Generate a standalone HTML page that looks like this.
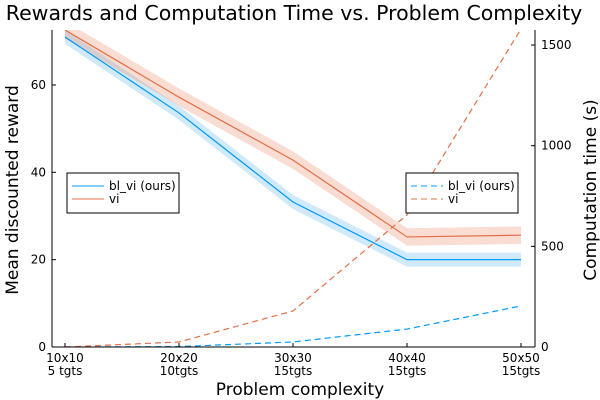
<!DOCTYPE html>
<html><head><meta charset="utf-8"><style>
body{margin:0;background:#fff}
svg{display:block;font-family:"DejaVu Sans","Liberation Sans",sans-serif}
</style></head><body>
<svg id="c" width="600" height="400" xmlns="http://www.w3.org/2000/svg">
<text x="294" y="20" text-anchor="middle" font-size="20.5" fill="#000">Rewards and Computation Time vs. Problem Complexity</text>
<text x="300" y="395" text-anchor="middle" font-size="17">Problem complexity</text>
<text transform="translate(18,190) rotate(-90)" text-anchor="middle" font-size="17">Mean discounted reward</text>
<text transform="translate(596,190) rotate(-90)" text-anchor="middle" font-size="17">Computation time (s)</text>
<g id="plot"></g>
</svg>
<script>
const categories=["10x10\n5 tgts","20x20\n10tgts","30x30\n15tgts","40x40\n15tgts","50x50\n15tgts"];
const blviReward=[71,53.6,33.2,20,20];
const blviBand=[1.6,1.6,1.6,1.6,1.6];
const viReward=[72.6,57.2,42.8,25.2,25.6];
const viBand=[2,2,2,2,2];
const blviTime=[0,2,25,89,204];
const viTime=[0,25,179,656,1580];
const leftTicks=[0,20,40,60];
const rightTicks=[0,500,1000,1500];
const NS="http://www.w3.org/2000/svg";
const L=52,R=535,T=30,B=347;
const x=i=>65+i*114;
const yL=v=>347-v*4.367;
const yR=v=>347-v*0.2013;
const g=document.getElementById('plot');
function mk(t,a,p){const e=document.createElementNS(NS,t);for(const k in a)e.setAttribute(k,a[k]);(p||g).appendChild(e);return e;}
const cp=mk('clipPath',{id:'cl'});mk('rect',{x:L,y:T,width:R-L,height:B-T},cp);
function band(v,b,col,name){
  let d=v.map((val,i)=>(i?'L':'M')+x(i)+','+yL(val+b[i])).join('');
  for(let i=v.length-1;i>=0;i--)d+='L'+x(i)+','+yL(v[i]-b[i]);
  const e=mk('path',{d:d+'Z',fill:col,'fill-opacity':0.28,'clip-path':'url(#cl)'});
  
  
}
function line(v,f,col,dash,name){
  const e=mk('polyline',{points:v.map((val,i)=>x(i)+','+f(val)).join(' '),fill:'none',stroke:col,'stroke-width':1.2,'stroke-dasharray':dash||'none','clip-path':'url(#cl)'});
  
  
}
band(blviReward,blviBand,'#56b4f0','band-blvi-reward');
band(viReward,viBand,'#e8805c','band-vi-reward');
line(blviReward,yL,'#009af9',null,'line-blvi-reward');
line(viReward,yL,'#e26f46',null,'line-vi-reward');
line(blviTime,yR,'#009af9','6,4','line-blvi-time');
line(viTime,yR,'#e26f46','6,4','line-vi-time');
mk('line',{x1:L,y1:T,x2:L,y2:B,stroke:'#000'});
mk('line',{x1:R,y1:T,x2:R,y2:B,stroke:'#000'});
mk('line',{x1:L,y1:B,x2:R,y2:B,stroke:'#000'});
leftTicks.forEach(v=>{mk('line',{x1:L,y1:yL(v),x2:L+4,y2:yL(v),stroke:'#000'});
  const t=mk('text',{x:L-6,y:yL(v)+4,'text-anchor':'end','font-size':12});t.textContent=v;
  
  });
rightTicks.forEach(v=>{mk('line',{x1:R-4,y1:yR(v),x2:R,y2:yR(v),stroke:'#000'});
  const t=mk('text',{x:R+6,y:yR(v)+4,'font-size':12});t.textContent=v;
  
  });
categories.forEach((c,i)=>{mk('line',{x1:x(i),y1:B-4,x2:x(i),y2:B,stroke:'#000'});
  c.split('\n').forEach((s,j)=>{const t=mk('text',{x:x(i),y:362+j*13,'text-anchor':'middle','font-size':12});t.textContent=s;
  
  });});
function legend(x0,dash,name){
  const lg=mk('g',{});
  
  
  mk('rect',{x:x0,y:173,width:112,height:40,fill:'#fff',stroke:'#000'},lg);
  [['bl_vi (ours)','#009af9'],['vi','#e26f46']].forEach((e,i)=>{
    mk('line',{x1:x0+5,y1:186+i*13,x2:x0+37,y2:186+i*13,stroke:e[1],'stroke-dasharray':dash||'none'},lg);
    const t=mk('text',{x:x0+42,y:190+i*13,'font-size':12},lg);t.textContent=e[0];});
}
legend(67,null,'legend-reward');
legend(406,'6,4','legend-time');
</script>
</body></html>
